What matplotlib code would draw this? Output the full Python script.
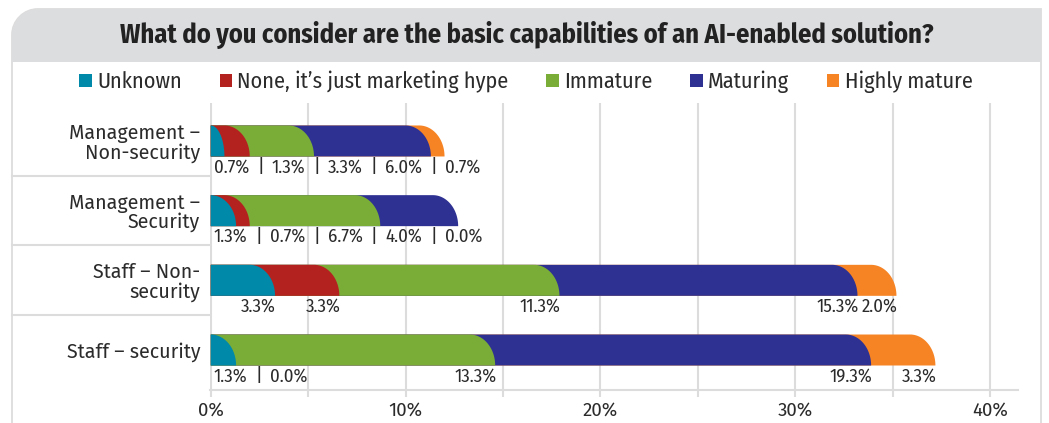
import matplotlib
matplotlib.use("Agg")
import matplotlib.pyplot as plt
import numpy as np
from matplotlib.patches import Polygon, PathPatch, Patch
from matplotlib.path import Path

# data
categories = ["Management –\nNon-security", "Management –\nSecurity", "Staff – Non-\nsecurity", "Staff – security"]
series = ["Unknown", "None, it’s just marketing hype", "Immature", "Maturing", "Highly mature"]
colors = ["#0089a8", "#b3221f", "#7aac38", "#2e3192", "#f68425"]
unknown = [0.7, 1.3, 3.3, 1.3]
hype = [1.3, 0.7, 3.3, 0.0]
immature = [3.3, 6.7, 11.3, 13.3]
maturing = [6.0, 4.0, 15.3, 19.3]
highly = [0.7, 0.0, 2.0, 3.3]
# how many leading labels of each row are written in a row with "|" between them
joined = [5, 5, 0, 2]

values = np.array([unknown, hype, immature, maturing, highly]).T

W, H = 1049, 423
COND = "Fira Sans Condensed"
REG = "Fira Sans"
DARK = "#2b2b2b"
LINE = "#dcdcdc"

fig = plt.figure(figsize=(W / 100, H / 100), dpi=100)

# background panel, drawn in pixel units
bg = fig.add_axes([0, 0, 1, 1], zorder=0)
bg.set_xlim(0, W)
bg.set_ylim(H, 0)
bg.axis("off")

L, T, R, r = 12, 9, 1041, 26
k = 0.5523 * r
panel = Path([(L, H + 5), (L, T + r), (L, T + r - k), (L + r - k, T), (L + r, T), (R, T), (R, H + 5), (L, H + 5)],
             [Path.MOVETO, Path.LINETO, Path.CURVE4, Path.CURVE4, Path.CURVE4, Path.LINETO, Path.LINETO, Path.CLOSEPOLY])
bg.add_patch(PathPatch(panel, facecolor="white", edgecolor=LINE, lw=1.3))
band = Path([(L, 62), (L, T + r), (L, T + r - k), (L + r - k, T), (L + r, T), (R, T), (R, 62), (L, 62)],
            [Path.MOVETO, Path.LINETO, Path.CURVE4, Path.CURVE4, Path.CURVE4, Path.LINETO, Path.LINETO, Path.CLOSEPOLY])
bg.add_patch(PathPatch(band, facecolor="#dcdddf", edgecolor="none"))

bg.text(527, 35, "What do you consider are the basic capabilities of an AI-enabled solution?",
        ha="center", va="center", family=COND, weight="bold", size=19, color="#222222")

# legend
handles = [Patch(facecolor=c, edgecolor="none", label=s) for s, c in zip(series, colors)]
fig.legend(handles=handles, loc="center", bbox_to_anchor=(526 / W, 1 - 82 / H), ncol=5, frameon=False,
           prop={"family": COND, "size": 16}, handlelength=0.55, handleheight=0.55,
           handletextpad=0.25, columnspacing=1.7, labelcolor=DARK)

# plot area
x0, x1, y0, y1 = 210, 1018, 103, 390
ax = fig.add_axes([x0 / W, 1 - y1 / H, (x1 - x0) / W, (y1 - y0) / H], zorder=2)
ax.patch.set_alpha(0)
ax.set_xlim(-0.04, 41.44)
ax.set_ylim(3.574, -0.545)
ax.set_axisbelow(True)
for s in ["top", "right", "left"]:
    ax.spines[s].set_visible(False)
ax.spines["bottom"].set_color(LINE)
ax.spines["bottom"].set_linewidth(1.5)
ticks = np.arange(0, 41, 5)
ax.set_xticks(ticks)
ax.set_xticklabels([f"{t}%" if t % 10 == 0 else "" for t in ticks], family=REG, size=13.5, color=DARK)
ax.tick_params(axis="x", length=5, width=1.5, color=LINE, pad=3)
ax.xaxis.grid(True, color=LINE, lw=1.5)

ypos = np.arange(len(categories))
ax.set_yticks(ypos)
ax.set_yticklabels(categories, family=REG, size=14.2, color=DARK)
ax.tick_params(axis="y", length=0, pad=7)
for lbl in ax.get_yticklabels():
    lbl.set_linespacing(0.98)

# separators in the category column
for i in range(len(categories) - 1):
    _, yd = ax.transData.transform((0, i + 0.5))
    bg.plot([L, x0], [H - yd, H - yd], color=LINE, lw=1.5)

# bars with a rounded top-right end, longest drawn first
h = 0.445
rx = 1.3
t = np.linspace(0, np.pi / 2, 30)
for i, row in enumerate(values):
    cum = np.cumsum(row)
    for j in range(len(series) - 1, -1, -1):
        if row[j] == 0:
            continue
        end = cum[j]
        e = min(rx, end)
        top, bot = i - h / 2, i + h / 2
        arc = np.column_stack([end - e + e * np.sin(t), bot - h * np.cos(t)])
        pts = np.vstack([[[0, bot], [0, top]], arc])
        ax.add_patch(Polygon(pts, closed=True, facecolor=colors[j], edgecolor="none", zorder=3))

# value labels
fig.canvas.draw()
rend = fig.canvas.get_renderer()
inv = ax.transData.inverted()
lab_kw = dict(family=COND, size=13.5, color=DARK, va="top", zorder=4)
gap = 8
for i, row in enumerate(values):
    cum = np.cumsum(row)
    ylab = i + h / 2 + 0.025
    xpix = ax.transData.transform((0, ylab))[0] + 3
    for j in range(len(series)):
        txt = f"{row[j]:.1f}%"
        if j < joined[i]:
            if j > 0:
                sep = ax.text(inv.transform((xpix + gap, 0))[0], ylab, "|", ha="left", **lab_kw)
                xpix = sep.get_window_extent(rend).x1
                xpix += gap
            tt = ax.text(inv.transform((xpix, 0))[0], ylab, txt, ha="left", **lab_kw)
            xpix = tt.get_window_extent(rend).x1
        else:
            ax.text(cum[j] + 0.05, ylab, txt, ha="right", **lab_kw)

fig.savefig("out.png", dpi=100)
